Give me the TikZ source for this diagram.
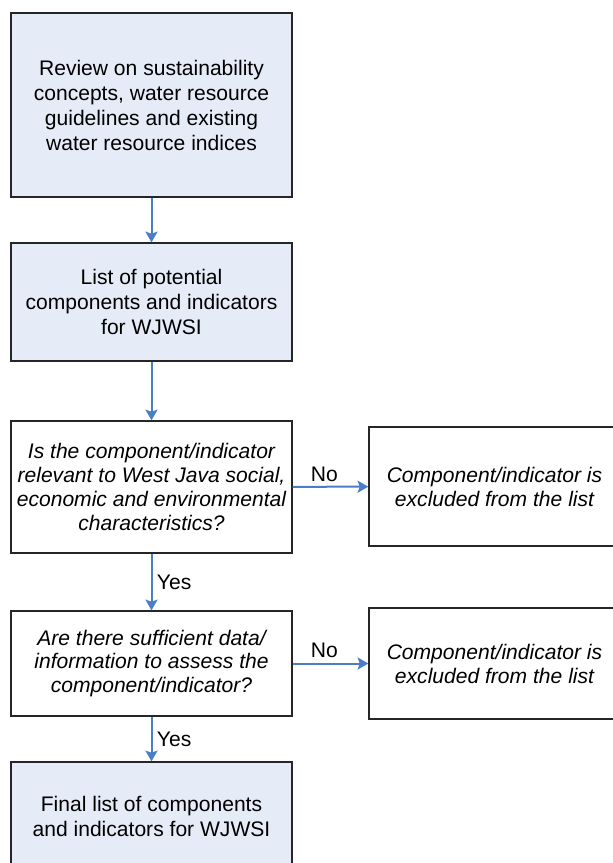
\documentclass[tikz,border=0pt]{standalone}
\usepackage{fontspec}
\setmainfont{Liberation Sans}
\usetikzlibrary{arrows.meta, positioning}

\definecolor{boxblue}{HTML}{E5ECF7}
\definecolor{linkblue}{HTML}{4A7EC5}

\begin{document}
\begin{tikzpicture}[
  x=0.75pt, y=-0.75pt,
  font=\fontsize{15.8}{18.75}\selectfont,
  every node/.style={align=center},
  stagebox/.style={draw=black!85, line width=1pt, fill=boxblue, inner sep=0pt, minimum width=210.75pt},
  askbox/.style={draw=black!85, line width=1pt, fill=white, inner sep=0pt, minimum width=210.75pt, font=\fontsize{15.8}{17.8}\selectfont\itshape},
  outbox/.style={draw=black!85, line width=1pt, fill=white, inner sep=0pt, minimum width=188.25pt, font=\fontsize{15.8}{18}\selectfont\itshape},
  link/.style={draw=linkblue, line width=1.5pt, -{Stealth[length=8pt, width=9pt, inset=1.5pt]}}
]

%% ---- Page frame ----
\clip (0,0) rectangle (613,863);

%% ---- Main column ----
\node[stagebox, minimum height=138pt] (review) at (151.5,105)
  {Review on sustainability\\concepts, water resource\\guidelines and existing\\water resource indices};
\node[stagebox, minimum height=88.5pt] (potential) at (151.5,302)
  {List of potential\\components and indicators\\for WJWSI};
\node[askbox, minimum height=99pt] (relevant) at (151.5,487)
  {Is the component/indicator\\relevant to West Java social,\\economic and environmental\\characteristics?};
\node[askbox, minimum height=78.75pt] (sufficient) at (151.5,663.5)
  {Are there sufficient data/\\information to assess the\\component/indicator?};
\node[stagebox, minimum height=81pt] (final) at (151.5,816)
  {Final list of components\\and indicators for WJWSI};

%% ---- Excluded boxes ----
\node[outbox, minimum height=89.25pt] (excl1) at (494.5,486.5)
  {Component/indicator is\\excluded from the list};
\node[outbox, minimum height=83.25pt] (excl2) at (494.5,663.5)
  {Component/indicator is\\excluded from the list};

%% ---- Connectors ----
\draw[link] (review) -- (potential);
\draw[link] (potential) -- (relevant);
\draw[link] (relevant) -- node[right] {Yes} (sufficient);
\draw[link] (sufficient) -- node[right] {Yes} (final);
\draw[link] (relevant) -- node[above, pos=0.42] {No} (excl1);
\draw[link] (sufficient) -- node[above, pos=0.42] {No} (excl2);

\end{tikzpicture}
\end{document}
